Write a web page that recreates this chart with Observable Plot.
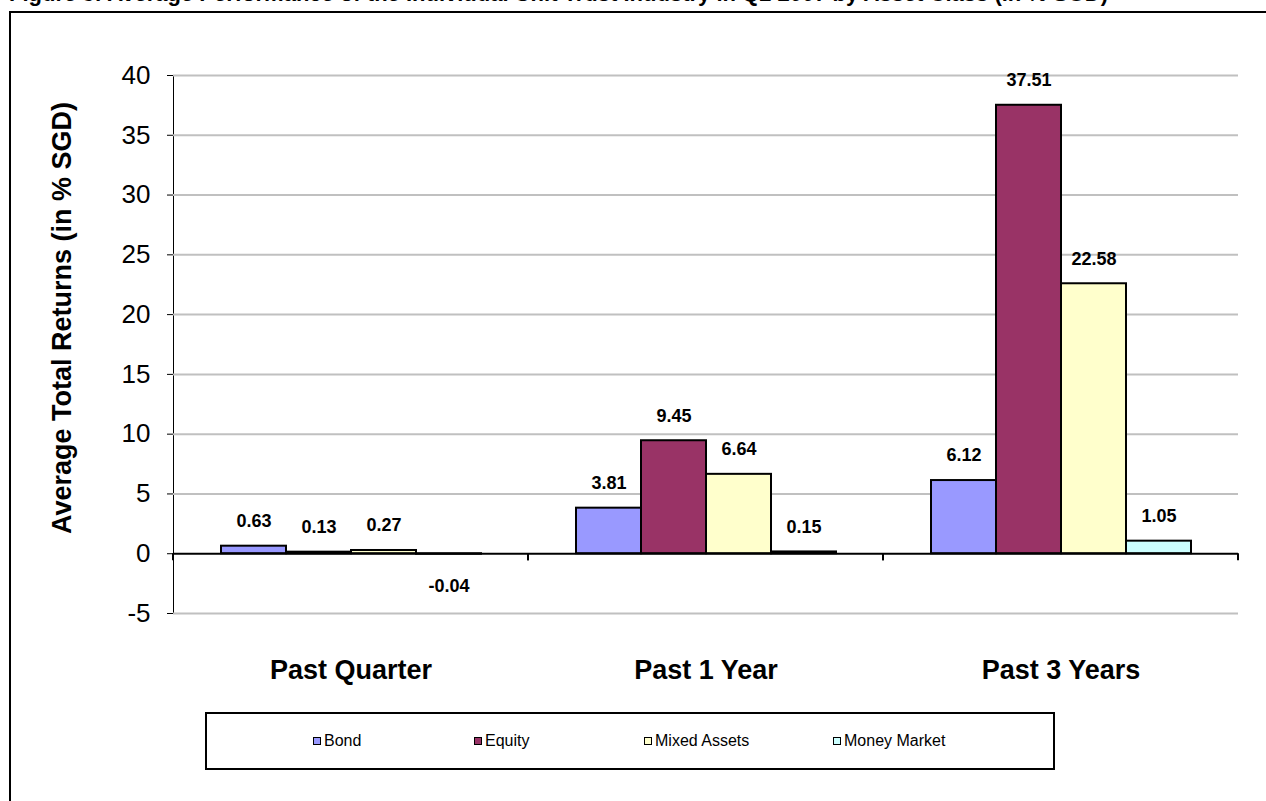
<!DOCTYPE html>
<html><head><meta charset="utf-8">
<script src="https://cdn.jsdelivr.net/npm/d3@7"></script>
<script src="https://cdn.jsdelivr.net/npm/@observablehq/plot@0.6"></script>
<style>
body{margin:0;background:#fff;font-family:Arial,"Liberation Sans",sans-serif;}
#wrap{position:relative;width:1266px;height:801px;overflow:hidden;background:#fff;}
#title{position:absolute;left:9px;top:-17px;font-size:22px;line-height:22px;font-weight:bold;white-space:nowrap;}
#frame{position:absolute;left:9px;top:11px;width:1400px;height:1000px;border:2px solid #000;box-sizing:border-box;}
#chart{position:absolute;left:0;top:0;}
#ylabel{position:absolute;left:62px;top:318px;transform:translate(-50%,-50%) rotate(-90deg);font-size:27px;font-weight:bold;white-space:nowrap;}
#legend{position:absolute;left:205px;top:712px;width:850px;height:58px;border:2px solid #000;box-sizing:border-box;font-size:16px;}
.item{position:absolute;top:50%;transform:translateY(-50%);display:flex;align-items:center;white-space:nowrap;}
.sw{display:inline-block;width:6px;height:6px;border:1.5px solid #000;margin-right:3px;}
g[aria-label="fx-axis tick label"]{font-weight:bold;font-size:27px;}
</style></head>
<body>
<div id="wrap">
  <div id="title">Figure 3: Average Performance of the Individual Unit Trust Industry in Q2 2007 by Asset Class (in % SGD)</div>
  <div id="frame"></div>
  <div id="chart"></div>
  <div id="ylabel">Average Total Returns (in % SGD)</div>
  <div id="legend"></div>
</div>
<script>
const categories = ["Past Quarter", "Past 1 Year", "Past 3 Years"];
const series = ["Bond", "Equity", "Mixed Assets", "Money Market"];
const bond = [0.63, 3.81, 6.12];
const equity = [0.13, 9.45, 37.51];
const mixed = [0.27, 6.64, 22.58];
const moneyMarket = [-0.04, 0.15, 1.05];
const yTicks = [-5, 0, 5, 10, 15, 20, 25, 30, 35, 40];
const colors = ["#9999FF", "#993366", "#FFFFCC", "#CCFFFF"];
// legend layout (pixel offsets of each entry inside the legend box)
const legendOffsets = [106, 267, 437, 626];

const seriesValues = [bond, equity, mixed, moneyMarket];
const data = categories.flatMap((c, i) =>
  series.map((s, j) => ({category: c, series: s, value: seriesValues[j][i]})));

function boundaryTicks(index, scales) {
  const [x0, x1] = scales.x.range();
  const y0 = scales.y(0);
  const g = d3.create("svg:g");
  for (const x of [x0, x1]) {
    g.append("line").attr("x1", x).attr("x2", x).attr("y1", y0).attr("y2", y0 + 7)
      .attr("stroke", "#000").attr("stroke-width", 2);
  }
  return g.node();
}

const chart = Plot.plot({
  width: 1266,
  height: 700,
  marginLeft: 173,
  marginRight: 28,
  marginTop: 75,
  marginBottom: 87,
  style: {fontFamily: "Arial, 'Liberation Sans', sans-serif", fontSize: "26px", background: "transparent", overflow: "visible", color: "#000"},
  fx: {domain: categories, padding: 0, label: null, tickSize: 0, tickPadding: 46},
  x: {domain: series, paddingInner: 0, paddingOuter: 0.73, axis: null},
  y: {domain: [-5, 40], ticks: yTicks, tickSize: 6, tickPadding: 17, label: null, line: true, tickFormat: d => String(d)},
  color: {domain: series, range: colors},
  marks: [
    Plot.ruleY(yTicks.filter(v => v !== 0), {stroke: "#c0c0c0", strokeWidth: 2}),
    Plot.barY(data, {fx: "category", x: "series", y: "value", fill: "series", stroke: "#000", strokeWidth: 2}),
    Plot.ruleY([0], {stroke: "#000", strokeWidth: 2}),
    boundaryTicks,
    Plot.text(data, {filter: d => d.value >= 0, fx: "category", x: "series", y: "value", text: d => d.value.toFixed(2), dy: -25, fontSize: 18, fontWeight: "bold"}),
    Plot.text(data, {filter: d => d.value < 0, fx: "category", x: "series", y: "value", text: d => d.value.toFixed(2), dy: 32, fontSize: 18, fontWeight: "bold"})
  ]
});
document.getElementById("chart").appendChild(chart);

const legend = document.getElementById("legend");
series.forEach((s, i) => {
  const it = document.createElement("div");
  it.className = "item";
  it.style.left = legendOffsets[i] + "px";
  const sw = document.createElement("span");
  sw.className = "sw";
  sw.style.background = colors[i];
  it.appendChild(sw);
  it.appendChild(document.createTextNode(s));
  legend.appendChild(it);
});
</script>
</body></html>
